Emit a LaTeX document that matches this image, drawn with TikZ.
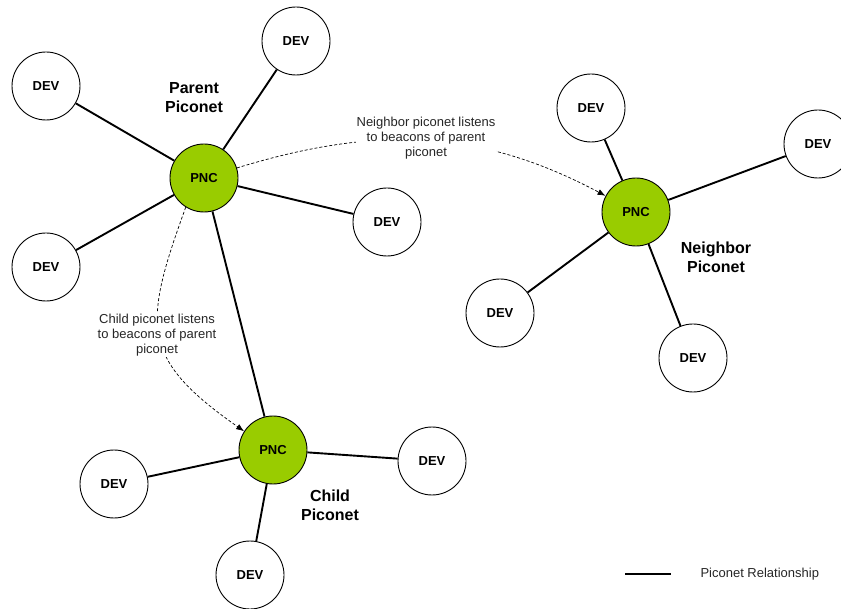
\documentclass[tikz,border=0pt]{standalone}
\usepackage{fontspec}
\setmainfont{Liberation Sans}
\usetikzlibrary{arrows.meta}
\definecolor{pncgreen}{RGB}{153,204,0}
\tikzset{
  dev/.style={circle, draw=black, line width=0.9pt, fill=white, minimum size=68pt, inner sep=0pt,
              font=\fontsize{13}{15}\selectfont\bfseries},
  pnc/.style={dev, fill=pncgreen},
  link/.style={line width=1.9pt},
  listen/.style={dashed, dash pattern=on 3pt off 2pt, line width=0.7pt,
                 -{Latex[length=8pt,width=6pt]}},
  netlabel/.style={align=center, font=\fontsize{16}{19}\selectfont\bfseries},
  note/.style={align=center, fill=white, inner sep=1pt, text=black!85,
               font=\fontsize{13}{15}\selectfont},
}
\begin{document}
\begin{tikzpicture}[x=1pt,y=-1pt]
  \useasboundingbox (0,0) rectangle (841,609);

  % parent piconet
  \node[pnc] (pp) at (204,178) {PNC};
  \node[dev] (pa) at (46,86)   {DEV};
  \node[dev] (pb) at (296,41)  {DEV};
  \node[dev] (pc) at (387,222) {DEV};
  \node[dev] (pd) at (46,267)  {DEV};
  \node[netlabel] (plabel) at (194,98) {Parent\\Piconet};

  % neighbor piconet
  \node[pnc] (np) at (636,212) {PNC};
  \node[dev] (na) at (591,108) {DEV};
  \node[dev] (nb) at (818,144) {DEV};
  \node[dev] (nc) at (500,313) {DEV};
  \node[dev] (nd) at (693,358) {DEV};
  \node[netlabel] (nlabel) at (716,257) {Neighbor\\Piconet};

  % child piconet
  \node[pnc] (cp) at (273,450) {PNC};
  \node[dev] (ca) at (114,484) {DEV};
  \node[dev] (cb) at (432,461) {DEV};
  \node[dev] (cc) at (250,575) {DEV};
  \node[netlabel] (clabel) at (330,505) {Child\\Piconet};

  % piconet relationships
  \foreach \d in {pa,pb,pc,pd,cp} \draw[link] (pp) -- (\d);
  \foreach \d in {na,nb,nc,nd} \draw[link] (np) -- (\d);
  \foreach \d in {ca,cb,cc} \draw[link] (cp) -- (\d);

  % beacon listening
  \draw[listen] (pp) to[out=17,in=152] (np);
  \draw[listen] (pp.238) to[out=250,in=145,looseness=1.4] (cp.147);
  \node[note] (nnote) at (426,138) {Neighbor piconet listens\\to beacons of parent\\piconet};
  \node[note] (cnote) at (157,335) {Child piconet listens\\to beacons of parent\\piconet};

  % legend
  \coordinate (lg1) at (625,574);
  \coordinate (lg2) at (671,574);
  \draw[link] (lg1) -- (lg2);
  \node[anchor=west, font=\fontsize{13}{15}\selectfont, text=black!85] (lgtext) at (697,574) {Piconet Relationship};
\end{tikzpicture}
\end{document}
